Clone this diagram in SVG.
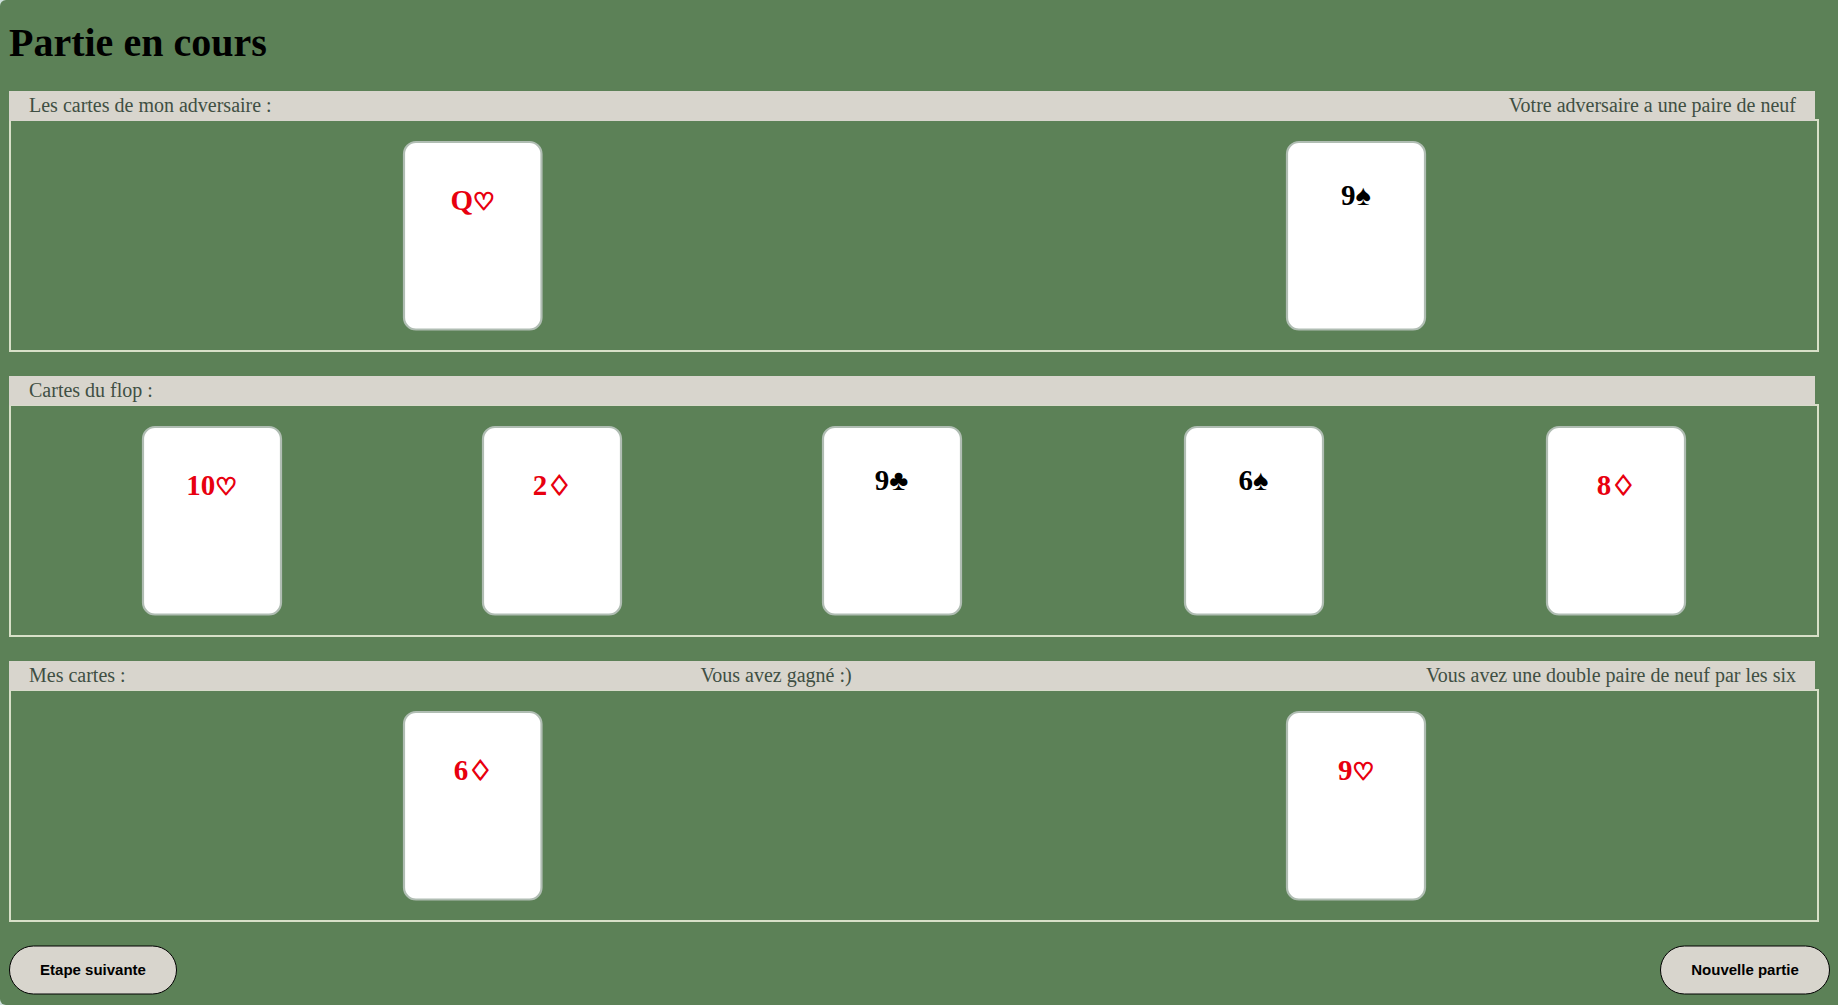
<svg xmlns="http://www.w3.org/2000/svg" width="1838" height="1005" viewBox="0 0 1838 1005">
<style>
.bg{fill:#5c8157}
.bar{fill:#d8d5cd}
.panel{fill:none;stroke:#d8e0c8;stroke-width:2}
.lbl{font:20px "Liberation Serif",serif;fill:#3f4f43}
rect.card{fill:#fff;stroke:#b0bdb3;stroke-width:2.2}
.c{font:bold 29px "Liberation Serif",serif;text-anchor:middle}
.h{font:bold 24px "DejaVu Sans",sans-serif;stroke:#e8000f;stroke-width:1.5}
.d{font:bold 27px "DejaVu Sans",sans-serif;stroke:#e8000f;stroke-width:1.5}
.r{fill:#e8000f}
.k{fill:#000}
.btn{fill:#d8d5cd;stroke:#000;stroke-width:1}
.bt{font:bold 15px "Liberation Sans",sans-serif;text-anchor:middle;fill:#000}
</style>
<rect width="1838" height="1005" fill="#cfe0dc"/>
<path class="bg" d="M6 0H1838V1005H6A6 6 0 0 1 0 999V6A6 6 0 0 1 6 0Z"/>
<text x="9" y="56" style="font:bold 40px 'Liberation Serif',serif;fill:#000">Partie en cours</text>
<g id="panel-adversaire">
<rect class="panel" x="10" y="120" width="1808" height="231"/>
<rect class="bar" x="9" y="91" width="1806" height="30"/>
<text class="lbl" x="29" y="112">Les cartes de mon adversaire :</text>
<text class="lbl" x="1796" y="112" text-anchor="end">Votre adversaire a une paire de neuf</text>
</g>
<g id="panel-flop">
<rect class="panel" x="10" y="405" width="1808" height="231"/>
<rect class="bar" x="9" y="376" width="1806" height="29.5"/>
<text class="lbl" x="29" y="397">Cartes du flop :</text>
</g>
<g id="panel-mes">
<rect class="panel" x="10" y="690" width="1808" height="231"/>
<rect class="bar" x="9" y="661" width="1806" height="29.5"/>
<text class="lbl" x="29" y="682">Mes cartes :</text>
<text class="lbl" x="776" y="682" text-anchor="middle">Vous avez gagné :)</text>
<text class="lbl" x="1796" y="682" text-anchor="end">Vous avez une double paire de neuf par les six</text>
</g>
<g id="card-q-h"><rect class="card" x="404" y="142" width="137.5" height="187.5" rx="12"/><text class="c r" x="472.5" y="210">Q<tspan class="h">♡</tspan></text></g>
<g id="card-9-s"><rect class="card" x="1287" y="142" width="138" height="187.5" rx="12"/><text class="c k" x="1356" y="205">9♠</text></g>
<g id="card-10-h"><rect class="card" x="143" y="427" width="138" height="187.5" rx="12"/><text class="c r" x="211.5" y="495">10<tspan class="h">♡</tspan></text></g>
<g id="card-2-d"><rect class="card" x="483" y="427" width="138" height="187.5" rx="12"/><text class="c r" x="552" y="495">2<tspan class="d">♢</tspan></text></g>
<g id="card-9-c"><rect class="card" x="823" y="427" width="138" height="187.5" rx="12"/><text class="c k" x="891.5" y="490">9♣</text></g>
<g id="card-6-s"><rect class="card" x="1185" y="427" width="138" height="187.5" rx="12"/><text class="c k" x="1253.5" y="490">6♠</text></g>
<g id="card-8-d"><rect class="card" x="1547" y="427" width="138" height="187.5" rx="12"/><text class="c r" x="1616" y="495">8<tspan class="d">♢</tspan></text></g>
<g id="card-6-d"><rect class="card" x="404" y="712" width="137.5" height="187.5" rx="12"/><text class="c r" x="473" y="780">6<tspan class="d">♢</tspan></text></g>
<g id="card-9-h"><rect class="card" x="1287" y="712" width="138" height="187.5" rx="12"/><text class="c r" x="1356" y="780">9<tspan class="h">♡</tspan></text></g>
<g id="btn-etape"><rect class="btn" x="9.5" y="946" width="167" height="48" rx="24"/><text class="bt" x="93" y="975">Etape suivante</text></g>
<g id="btn-nouvelle"><rect class="btn" x="1660.5" y="946" width="169" height="48" rx="24"/><text class="bt" x="1745" y="975">Nouvelle partie</text></g>
</svg>
